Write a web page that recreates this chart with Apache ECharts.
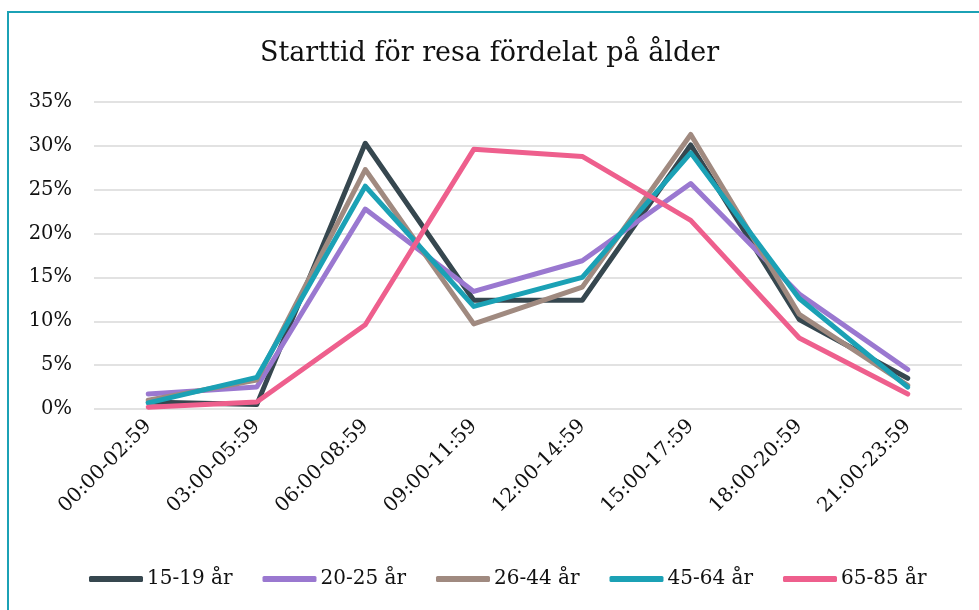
<!DOCTYPE html>
<html>
<head>
<meta charset="utf-8">
<script src="https://cdn.jsdelivr.net/npm/echarts@6/dist/echarts.min.js"></script>
<style>
  html, body { margin: 0; padding: 0; background: #fff; }
  #chart { width: 979px; height: 610px; }
</style>
</head>
<body>
<div id="chart"></div>
<script>
// tidsintervall
const categories = ['00:00-02:59', '03:00-05:59', '06:00-08:59', '09:00-11:59',
  '12:00-14:59', '15:00-17:59', '18:00-20:59', '21:00-23:59'];

// andel (%) per åldersgrupp
const age15_19 = [0.8, 0.5, 30.3, 12.4, 12.4, 30.1, 10.2, 3.5];
const age20_25 = [1.7, 2.5, 22.8, 13.4, 16.9, 25.7, 13.1, 4.5];
const age26_44 = [1.0, 3.3, 27.3, 9.7, 13.9, 31.3, 10.8, 2.7];
const age45_64 = [0.7, 3.6, 25.4, 11.7, 15.0, 29.2, 12.6, 2.5];
const age65_85 = [0.2, 0.8, 9.6, 29.6, 28.8, 21.5, 8.1, 1.7];

const yTicks = [0, 5, 10, 15, 20, 25, 30, 35];

const seriesNames = ['15-19 år', '20-25 år', '26-44 år', '45-64 år', '65-85 år'];
const seriesData = [age15_19, age20_25, age26_44, age45_64, age65_85];
const colors = ['#36474f', '#9a78d0', '#a08a80', '#1ba1b5', '#ee5f8d'];

const font = 'DejaVu Serif';

let chart = echarts.init(document.getElementById('chart'));

let option = {
  animation: false,
  color: colors,
  graphic: [{
    type: 'rect',
    shape: { x: 8, y: 12, width: 1000, height: 640 },
    style: { fill: 'none', stroke: '#1ba1b5', lineWidth: 2 },
    silent: true
  }],
  title: {
    text: 'Starttid för resa fördelat på ålder',
    left: 'center',
    top: 35,
    textStyle: { fontFamily: font, fontSize: 27, fontWeight: 'normal', color: '#111' }
  },
  legend: {
    bottom: 16,
    left: 84,
    itemWidth: 54,
    itemHeight: 6,
    itemGap: 30,
    icon: 'roundRect',
    textStyle: { fontFamily: font, fontSize: 20, color: '#111', padding: [0, 0, 0, -1] },
    data: seriesNames
  },
  grid: { left: 94, right: 17, top: 102, bottom: 201 },
  xAxis: {
    type: 'category',
    data: categories,
    boundaryGap: true,
    axisLine: { show: false },
    axisTick: { show: false },
    axisLabel: {
      rotate: 45,
      margin: 14,
      fontFamily: font,
      fontSize: 20,
      color: '#111'
    }
  },
  yAxis: {
    type: 'value',
    min: yTicks[0],
    max: yTicks[yTicks.length - 1],
    interval: 5,
    axisLine: { show: false },
    axisTick: { show: false },
    splitLine: { lineStyle: { color: '#d9d9d9', width: 1.5 } },
    axisLabel: {
      formatter: '{value}%',
      margin: 22,
      fontFamily: font,
      fontSize: 19.5,
      color: '#111'
    }
  },
  series: seriesNames.map((name, i) => ({
    name: name,
    type: 'line',
    data: seriesData[i],
    showSymbol: false,
    symbol: 'none',
    lineStyle: { width: 5, color: colors[i], cap: 'round', join: 'round' },
    itemStyle: { color: colors[i] }
  }))
};

chart.setOption(option);

window.onresize = function () {
  chart.resize();
};
</script>
</body>
</html>
